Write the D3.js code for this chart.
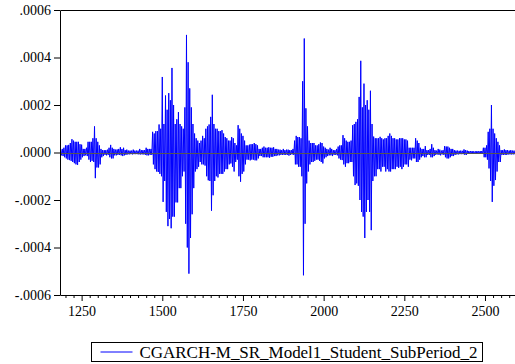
<!DOCTYPE html>
<html>
<head>
<meta charset="utf-8">
<script src="https://d3js.org/d3.v7.min.js"></script>
<style>
  html, body { margin: 0; padding: 0; background: #fff; }
  #chart { width: 515px; height: 364px; }
  text { font-family: "Liberation Serif", "DejaVu Serif", serif; fill: #000; }
</style>
</head>
<body>
<div id="chart"></div>
<script>
// series name shown in the legend
const seriesName = "CGARCH-M_SR_Model1_Student_SubPeriod_2";

// values read off the picture in units of 1e-5: for each block of 5 observations
// starting at 1185, the highest and the lowest value drawn
const valueUnit = 1e-5;
const obsFirst = 1185;
const obsStep = 5;
const upperValues = [
  1.2, 1.5, 2, 3, 3, 3.2, 4, 5.6, 5, 4.5,
  4.5, 4.5, 3.5, 3.3, 1.5, 1.5, 2, 4.5, 4.5, 4.5,
  6, 11, 6, 4.5, 3, 1.5, 1, 1, 1, 1.2,
  2, 3.2, 2, 1.5, 1.2, 1.3, 1.5, 2.2, 1.5, 2,
  1, 1.2, 0.8, 0.8, 0.8, 1.2, 0.8, 0.8, 0.8, 1.5,
  1, 1, 1, 2, 1.5, 1.5, 1.5, 8.7, 8, 9,
  9, 11.8, 10, 31.8, 12, 24, 18, 25, 22, 35.6,
  20, 12, 14, 17, 12, 11, 10, 19, 49.5, 38,
  27, 19, 12, 8, 6, 5, 4, 5, 7, 6,
  10, 11, 11.8, 15, 24.3, 12, 10, 10, 9, 9,
  9.4, 8, 6.5, 6, 5, 5, 6.5, 6, 4, 3,
  11.5, 10, 8, 7, 5, 3, 3, 3.3, 3.5, 3.5,
  4, 3.5, 3, 1.5, 1.5, 2, 2.5, 2, 2, 2.2,
  2, 2, 2.2, 1.5, 1.5, 1.2, 1.2, 1, 1.5, 1,
  1.2, 1.2, 1, 1, 1.5, 5, 7, 6.5, 6.5, 6,
  30, 48, 18.6, 11, 5, 4, 4, 4, 3, 3,
  3.5, 4.2, 4, 2.5, 2, 1.5, 1.2, 2, 1.5, 1,
  1, 1.5, 2.5, 3, 3, 7.3, 6, 5, 4.5, 4.5,
  5, 11.5, 12, 12.9, 14, 23.4, 38.6, 19, 29, 20,
  22, 18, 26, 12, 6.7, 6, 6, 6, 6.6, 6,
  5.5, 6, 6, 7, 8, 7, 6, 6, 5.5, 5.5,
  6, 6, 6, 5.5, 5.5, 5, 2, 2, 2, 2,
  6, 5, 4, 2, 1.5, 1.5, 2.7, 1, 1, 1.5,
  3.5, 2, 1, 0.8, 1.5, 1.2, 0.8, 1, 2.7, 2.5,
  2.5, 2, 1.5, 1.5, 1, 0.8, 0.8, 0.7, 0.8, 0.7,
  1.3, 1, 0.8, 0.6, 0.6, 0.6, 0.5, 0.5, 0.6, 0.5,
  0.6, 0.6, 2, 2, 3, 8.7, 10, 20, 10, 8,
  6, 4.5, 3, 1, 1, 1.3, 1, 1, 0.8, 1,
  0.8, 0.8
];
const lowerValues = [
  -1.2, -1.5, -2, -2.5, -3, -3.2, -3.5, -4, -4.5, -5,
  -5.2, -4, -3, -2, -1.5, -1.2, -1.5, -3, -4, -3.5,
  -4, -10.8, -6.3, -6.3, -5, -2, -1.5, -1, -1.2, -1,
  -2, -2.5, -2.5, -1.2, -1.2, -1, -1, -1.2, -1.5, -1.2,
  -1, -0.8, -0.8, -0.7, -0.8, -0.7, -0.7, -0.7, -0.8, -0.8,
  -0.8, -0.8, -1, -1.2, -1.2, -1, -1, -5, -7, -8,
  -8.2, -9, -10, -20.8, -12, -25, -31, -28, -31.9, -27,
  -27, -21, -21, -15, -15, -10, -8, -30, -40, -51,
  -36, -26, -15, -8, -7, -6, -4, -5, -5, -5.5,
  -10, -11.7, -12, -24.5, -18, -12, -10, -10.5, -9, -9,
  -9, -8, -7, -7, -5, -4.6, -6, -8, -4, -3,
  -10, -12.3, -9, -8, -5, -3, -3, -3.3, -3, -3,
  -3.3, -3.3, -2.5, -1.5, -1.5, -2, -2, -2, -2, -2.2,
  -1.8, -1.8, -1.5, -1.5, -1.2, -1.2, -1, -1, -1, -1,
  -1, -1.3, -1, -0.8, -1, -5, -5, -6, -6, -10,
  -51.7, -30, -13, -8, -5, -4, -4, -3.5, -3, -3,
  -3.5, -4, -4.6, -2.5, -2, -1.5, -1.2, -1.2, -1.5, -1,
  -1, -1.2, -2.5, -3, -3.2, -5, -6, -4.5, -4.5, -4,
  -4, -10, -13.7, -13, -14, -20, -25, -27, -36, -25,
  -20, -25, -32.7, -12, -10, -10, -7, -7, -8, -6,
  -6, -8, -7, -8, -8, -7, -7, -7, -6, -6.5,
  -6, -7, -6, -5, -5, -6, -3, -3.3, -2.5, -2.5,
  -4, -4, -3, -2, -1.5, -2, -2, -1, -1, -2,
  -2, -1.5, -1, -0.8, -1, -1.2, -0.8, -1, -2, -2.5,
  -2.5, -2, -1.5, -1.5, -1, -0.8, -0.8, -0.7, -0.7, -0.7,
  -1, -1, -0.6, -0.6, -0.6, -0.6, -0.5, -0.5, -0.5, -0.5,
  -0.6, -0.6, -2, -2, -3, -6.7, -12, -20.8, -14, -11.6,
  -8, -4, -4, -1, -1, -1, -1, -0.8, -0.8, -0.8,
  -0.8, -0.8
];

// axis ticks and labels
const xDomain = [1183, 2593];
const xMajorTicks = [1250, 1500, 1750, 2000, 2250, 2500];
const xMinorStep = 25;
const yTicks = [-0.0006, -0.0004, -0.0002, 0, 0.0002, 0.0004, 0.0006];
const yTickLabels = ["-.0006", "-.0004", "-.0002", ".0000", ".0002", ".0004", ".0006"];

document.addEventListener('DOMContentLoaded', function () {
    const container = d3.select("#chart");
    const margin = {top: 10, right: 0, bottom: 69, left: 60};
    const fullWidth = 515, fullHeight = 364;
    const width = fullWidth - margin.left - margin.right;
    const height = fullHeight - margin.top - margin.bottom;

    const svg = container.append("svg")
        .attr("width", fullWidth)
        .attr("height", fullHeight);

    const g = svg.append("g")
        .attr("transform", `translate(${margin.left},${margin.top})`);

    // scales
    const x = d3.scaleLinear().domain(xDomain).range([0, width]);
    const y = d3.scaleLinear().domain([yTicks[0], yTicks[yTicks.length - 1]]).range([height, 0]);

    // interleave high and low of each block into one series
    const points = [];
    upperValues.forEach(function (hi, i) {
        const obs = obsFirst + i * obsStep;
        points.push({obs: obs, value: hi * valueUnit});
        points.push({obs: obs + obsStep / 2, value: lowerValues[i] * valueUnit});
    });

    const line = d3.line()
        .x(d => x(d.obs))
        .y(d => y(d.value));

    g.append("path")
        .datum(points)
        .attr("fill", "none")
        .attr("stroke", "#0000ff")
        .attr("stroke-width", 1)
        .attr("d", line);

    // zero line on top of the series
    g.append("line")
        .attr("x1", 0).attr("x2", width)
        .attr("y1", Math.round(y(0)) + 0.5).attr("y2", Math.round(y(0)) + 0.5)
        .attr("stroke", "#555")
        .attr("stroke-width", 1);

    // frame: left, top and bottom
    g.append("path")
        .attr("d", `M${width},0.5H0.5V${height + 0.5}H${width}`)
        .attr("fill", "none")
        .attr("stroke", "#000")
        .attr("stroke-width", 1);

    // y axis
    const yAxis = g.append("g")
        .call(d3.axisLeft(y).tickValues(yTicks)
            .tickFormat((d, i) => yTickLabels[i])
            .tickSize(6).tickSizeOuter(0).tickPadding(3));
    yAxis.select(".domain").remove();
    yAxis.selectAll("text").style("font-size", "14px");

    // x axis: minor ticks every 25, labelled majors every 250
    const minorTicks = d3.range(1200, xDomain[1], xMinorStep)
        .filter(v => xMajorTicks.indexOf(v) < 0);
    const xMinor = g.append("g")
        .attr("transform", `translate(0,${height})`)
        .call(d3.axisBottom(x).tickValues(minorTicks).tickFormat("").tickSize(3).tickSizeOuter(0));
    xMinor.select(".domain").remove();

    const xAxis = g.append("g")
        .attr("transform", `translate(0,${height})`)
        .call(d3.axisBottom(x).tickValues(xMajorTicks).tickFormat(d3.format("d"))
            .tickSize(6).tickSizeOuter(0).tickPadding(5));
    xAxis.select(".domain").remove();
    xAxis.selectAll("text").style("font-size", "14px");

    // legend
    const legend = svg.append("g").attr("transform", "translate(91.5,342.5)");
    legend.append("rect")
        .attr("width", 391).attr("height", 19)
        .attr("fill", "#fff").attr("stroke", "#000");
    legend.append("line")
        .attr("x1", 9).attr("x2", 41).attr("y1", 9.5).attr("y2", 9.5)
        .attr("stroke", "#0000ff").attr("stroke-width", 1);
    legend.append("text")
        .attr("x", 48).attr("y", 15)
        .attr("textLength", 338)
        .attr("lengthAdjust", "spacing")
        .style("font-size", "17px")
        .text(seriesName);
});
</script>
</body>
</html>
